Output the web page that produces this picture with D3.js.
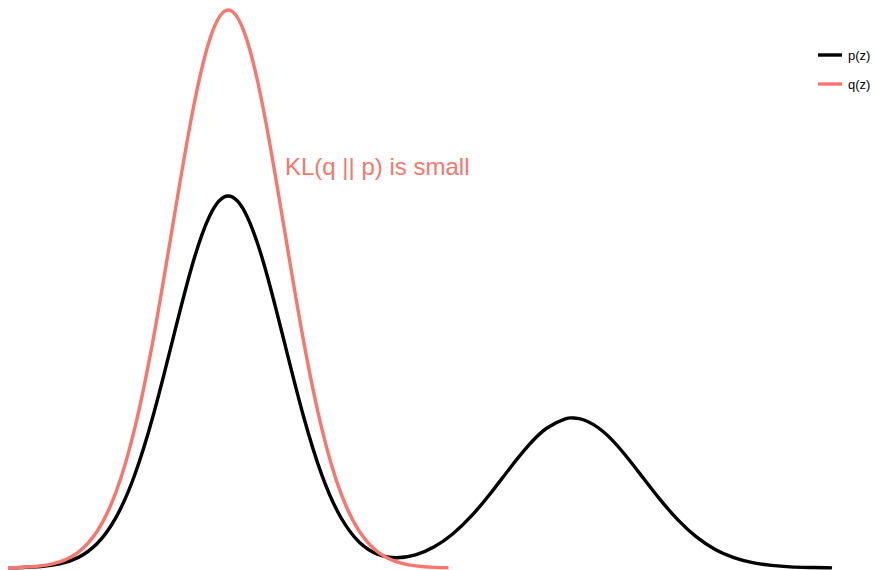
<!DOCTYPE html>
<html lang="en">

<head>
  <meta charset="UTF-8">
  <title>KL(q || p)</title>
  <script src="https://d3js.org/d3.v7.min.js"></script>
  <style>
    html,
    body {
      padding: 0;
      margin: 0;
      background: #fff;
    }

    text {
      font-family: "Liberation Sans", Arial, sans-serif;
    }
  </style>
</head>

<body>
  <script>
    const width = 877;
    const height = 570;

    // z grid and densities
    const zP = [-2.94, -2.75, -2.5, -2.25, -2, -1.75, -1.5, -1.25, -1, -0.75, -0.5, -0.25, 0,
      0.25, 0.5, 0.75, 1, 1.25, 1.5, 1.75, 2, 2.25, 2.5, 2.75, 3, 3.25, 3.5, 3.75, 4,
      4.25, 4.5, 4.6, 4.75, 5, 5.25, 5.5, 5.75, 6, 6.25, 6.5, 6.75, 7, 7.25, 7.5, 7.75, 8, 8.06];
    const pVals = [0.00016, 0.00043, 0.00137, 0.00394, 0.01013, 0.0233, 0.048, 0.0884, 0.1458, 0.2151, 0.2839, 0.3354, 0.3546,
      0.3354, 0.2839, 0.2151, 0.1459, 0.0886, 0.0486, 0.0246, 0.013, 0.0098, 0.0125, 0.0202, 0.0327, 0.0499, 0.071, 0.0942, 0.1161,
      0.1332, 0.1422, 0.143, 0.1411, 0.1304, 0.112, 0.0895, 0.0666, 0.0461, 0.0296, 0.0177, 0.0099, 0.0051, 0.0025, 0.0011, 0.0005, 0.0002, 0.0001];

    const zQ = [-2.94, -2.75, -2.5, -2.25, -2, -1.75, -1.5, -1.25, -1, -0.75, -0.5, -0.25, 0,
      0.25, 0.5, 0.75, 1, 1.25, 1.5, 1.75, 2, 2.25, 2.5, 2.75, 2.94];
    const qVals = [0.00024, 0.00064, 0.00206, 0.00591, 0.0152, 0.035, 0.072, 0.1326, 0.2187, 0.3226, 0.4259, 0.5032, 0.5319,
      0.5032, 0.4259, 0.3226, 0.2187, 0.1326, 0.072, 0.035, 0.0152, 0.00591, 0.00206, 0.00064, 0.00024];

    const seriesNames = ["p(z)", "q(z)"];
    const seriesColors = ["#000000", "#F8766D"];
    const note = "KL(q || p) is small";

    const x = d3.scaleLinear().domain([-2.94, 8.06]).range([8, 832]);
    const y = d3.scaleLinear().domain([0, 0.5319]).range([568, 10]);

    const line = d3.line()
      .x(d => x(d[0]))
      .y(d => y(d[1]))
      .curve(d3.curveNatural);

    const svg = d3.select("body").append("svg")
      .attr("width", width)
      .attr("height", height);

    const series = [
      d3.zip(zP, pVals),
      d3.zip(zQ, qVals)
    ];

    svg.selectAll("path.dens")
      .data(series)
      .join("path")
      .attr("class", "dens")
      .attr("fill", "none")
      .attr("stroke", (d, i) => seriesColors[i])
      .attr("stroke-width", 3.4)
      .attr("stroke-linejoin", "round")
      .attr("d", line);

    // annotation
    svg.append("text")
      .attr("x", 285)
      .attr("y", 175)
      .attr("fill", seriesColors[1])
      .attr("font-size", 24)
      .text(note);

    // legend
    const legend = svg.append("g").attr("transform", "translate(818,55)");
    const item = legend.selectAll("g")
      .data(seriesNames)
      .join("g")
      .attr("transform", (d, i) => `translate(0,${i * 29})`);
    item.append("line")
      .attr("x1", 0).attr("x2", 24)
      .attr("stroke", (d, i) => seriesColors[i])
      .attr("stroke-width", 3.4);
    item.append("text")
      .attr("x", 30)
      .attr("dy", "0.35em")
      .attr("font-size", 13)
      .text(d => d);
  </script>
</body>

</html>
